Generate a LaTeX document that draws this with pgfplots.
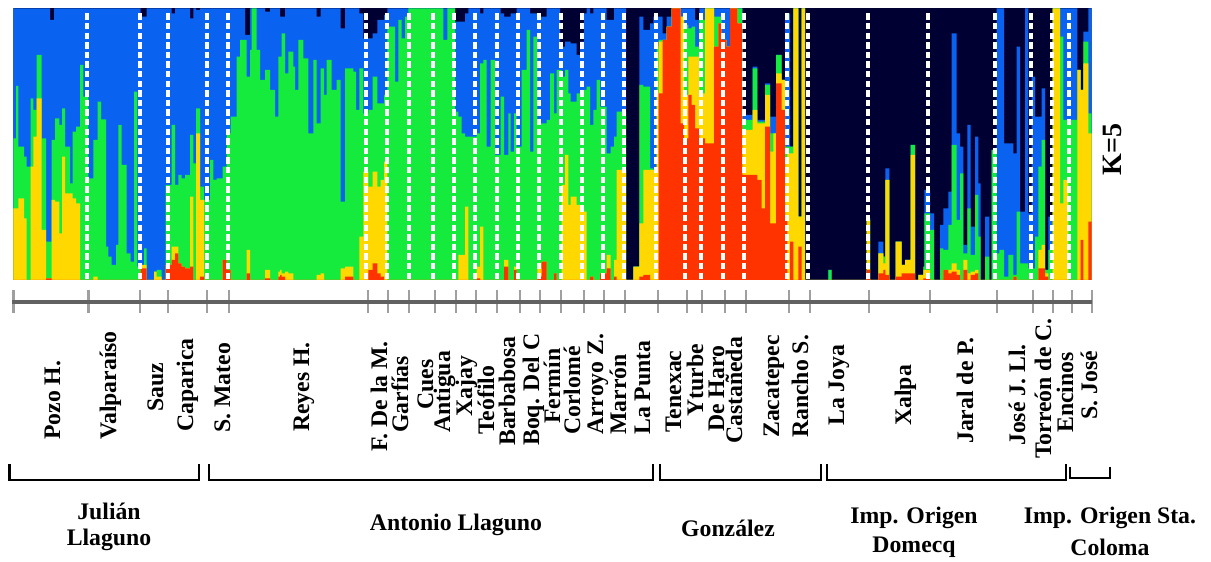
\documentclass[border=0pt]{standalone}
\usepackage{pgfplots}
\usepackage{pgfplotstable}
\usepackage{fontspec}
\setmainfont{Liberation Serif}
\pgfplotsset{compat=1.18}
\definecolor{cR}{HTML}{FF3300}
\definecolor{cY}{HTML}{FFD800}
\definecolor{cG}{HTML}{14EB3C}
\definecolor{cB}{HTML}{0A62F0}
\definecolor{cK}{HTML}{000033}
\pgfplotstableread{
X R Y G B
40 0 215 425 815
48 0 215 582 815
55 0 245 400 815
72 0 185 370 815
80 0 0 340 815
92 0 340 545 815
100 0 430 510 815
110 0 545 675 815
125 0 150 425 815
138 5 5 115 815
150 5 5 115 780
155 0 240 420 780
162 0 240 420 815
165 0 235 485 815
178 0 140 465 815
186 0 370 515 815
195 0 260 400 815
210 0 260 290 815
218 0 245 445 815
228 0 230 460 815
240 0 0 645 815
250 0 0 550 815
265 0 0 305 815
280 0 10 420 815
293 0 0 535 815
303 0 0 482 815
318 0 0 100 815
325 0 0 70 815
335 0 0 45 815
348 0 0 105 815
355 0 0 465 815
365 0 0 345 815
380 0 0 80 815
392 0 0 55 815
402 0 0 565 815
412 0 0 40 815
422 35 45 45 790
432 35 45 95 790
440 0 0 0 815
462 0 25 25 815
470 0 10 30 815
485 0 0 0 815
497 45 45 285 815
515 60 100 465 800
525 80 100 285 815
535 50 50 315 815
545 40 40 305 815
555 35 35 315 815
570 40 250 435 785
580 0 0 350 815
588 0 440 515 810
600 10 240 280 815
612 0 0 240 815
630 0 0 360 815
640 0 0 300 815
650 0 0 305 815
668 60 60 340 815
680 30 30 440 815
692 0 0 490 815
710 0 0 670 815
720 0 0 720 815
735 0 0 720 735
740 20 90 610 735
750 0 0 690 815
755 0 0 815 815
770 0 0 690 815
780 0 0 600 815
795 5 30 630 805
810 0 0 570 815
825 0 0 490 815
835 10 25 670 815
840 15 30 670 790
845 10 20 740 790
855 0 25 620 815
865 0 20 685 815
880 0 0 640 815
885 0 0 570 815
895 0 0 720 815
910 0 0 665 815
925 0 0 440 815
940 0 0 660 815
950 0 15 470 790
962 0 20 635 815
972 0 0 555 815
980 0 0 660 815
995 0 0 570 815
1010 0 0 600 815
1022 0 35 235 755
1035 10 40 635 815
1060 0 0 625 815
1068 0 0 510 815
1078 0 130 635 800
1090 0 325 500 725
1105 30 280 510 725
1118 50 325 610 740
1132 20 280 530 780
1142 10 300 530 780
1152 0 355 555 795
1162 0 0 760 815
1185 0 0 595 815
1195 0 0 780 815
1205 0 0 725 815
1215 0 0 790 815
1225 0 0 815 815
1330 0 0 720 815
1342 0 0 815 815
1365 0 0 505 775
1375 0 75 490 775
1385 0 75 440 775
1395 0 220 430 800
1405 0 0 430 815
1430 5 40 440 815
1440 0 160 650 800
1450 0 0 660 815
1460 0 0 400 815
1472 0 0 660 815
1485 0 0 375 815
1502 0 0 550 800
1512 40 60 375 790
1525 0 0 500 790
1532 0 0 385 800
1542 30 40 500 800
1550 0 0 400 815
1565 0 0 630 815
1580 0 0 750 815
1590 0 0 385 800
1600 0 0 730 800
1612 10 35 470 790
1625 55 55 470 790
1640 0 0 480 815
1650 0 0 620 815
1662 20 20 500 815
1670 0 0 630 815
1680 0 0 630 700
1685 0 285 610 700
1695 0 375 630 715
1705 0 225 560 715
1712 0 250 535 710
1730 0 225 560 675
1740 0 215 560 715
1752 0 205 570 800
1760 0 0 580 815
1770 10 10 465 800
1780 0 0 510 815
1790 0 0 600 815
1800 20 20 520 815
1820 35 75 380 780
1832 0 0 400 780
1842 10 60 430 815
1850 0 330 505 815
1878 0 0 0 0
1900 0 40 40 40
1918 10 170 585 790
1930 15 330 580 750
1950 0 330 335 770
1960 0 330 330 790
1970 0 560 700 790
1976 560 715 720 790
1988 720 720 720 740
2000 760 760 760 790
2015 815 815 815 815
2042 470 790 790 815
2052 425 555 765 815
2065 555 670 755 815
2075 525 670 760 815
2085 455 670 700 780
2098 425 560 780 815
2115 410 815 815 815
2142 700 700 790 815
2155 770 770 790 815
2165 720 720 720 815
2180 700 700 700 815
2190 815 815 815 815
2212 770 770 815 815
2227 315 450 480 495
2258 315 510 635 640
2272 300 470 475 480
2285 215 470 475 480
2295 460 555 585 590
2310 170 385 440 490
2320 170 440 440 490
2328 590 620 675 675
2345 510 600 600 600
2355 180 350 400 790
2362 0 380 400 800
2370 115 380 400 400
2380 0 815 815 815
2395 100 190 190 190
2405 0 815 815 815
2415 0 0 0 0
2485 0 0 30 30
2495 0 0 0 0
2600 30 180 185 185
2610 0 0 0 0
2635 20 80 80 115
2650 30 50 70 70
2656 15 300 300 335
2668 0 0 0 0
2687 10 115 115 115
2705 20 45 45 45
2715 20 60 60 60
2732 20 375 405 405
2745 0 0 0 0
2755 0 15 15 15
2770 5 30 40 40
2773 5 30 200 270
2790 0 0 150 200
2802 0 0 0 0
2820 0 0 95 165
2830 30 30 90 215
2845 20 30 165 265
2855 25 50 405 740
2870 15 30 180 440
2880 0 0 320 400
2890 30 60 80 105
2902 0 20 215 465
2912 15 25 75 160
2925 20 30 255 430
2935 0 0 130 290
2942 0 0 0 0
2955 0 0 70 190
2968 0 0 0 0
2975 0 0 390 390
2990 0 0 80 815
2998 0 0 90 815
3012 0 0 10 410
3025 0 0 75 410
3040 10 10 15 380
3050 0 0 205 700
3060 0 0 50 205
3075 0 0 50 815
3085 0 0 35 200
3095 0 0 35 610
3105 0 0 130 490
3115 35 90 340 490
3125 35 105 420 575
3135 10 20 30 30
3145 0 0 90 190
3158 0 815 815 815
3180 0 230 730 815
3190 0 300 480 815
3205 0 0 480 815
3232 0 630 630 630
3242 120 570 570 570
3250 0 650 715 745
3265 175 440 500 815
3275 175 440 500 815
}\structdata
\newcommand{\lab}[3]{\node[rotate=90,anchor=base west,inner sep=0pt] at (axis cs:#1,#2) {\fontsize{17.8}{20}\selectfont\bfseries #3};}
\newcommand{\hlab}[3]{\node[anchor=center,inner sep=0pt] at (axis cs:#1,#2) {\fontsize{17.8}{20}\selectfont\bfseries #3};}
\begin{document}
\begin{tikzpicture}
\path[use as bounding box] (0,0) rectangle (908.25pt,420.75pt);
\begin{axis}[at={(10pt,210.75pt)},anchor=south west,scale only axis,width=808.75pt,height=203.75pt,
  xmin=40,xmax=3275,ymin=0,ymax=815,axis lines=none]
\addplot[fill=cK,draw=none] coordinates {(40,815)(3275,815)} \closedcycle;
\addplot[fill=cB,draw=none,const plot mark left] table[x=X,y=B]{\structdata} \closedcycle;
\addplot[fill=cG,draw=none,const plot mark left] table[x=X,y=G]{\structdata} \closedcycle;
\addplot[fill=cY,draw=none,const plot mark left] table[x=X,y=Y]{\structdata} \closedcycle;
\addplot[fill=cR,draw=none,const plot mark left] table[x=X,y=R]{\structdata} \closedcycle;
\pgfplotsinvokeforeach{260,420,503,621,685,1098,1162,1226,1300,1363,1426,1490,1554,1618,1682,1745,1810,1873,1968,2054,2104,2170,2232,2362,2425,2605,2785,2985,3093,3155,3208}{
  \addplot[white,line width=2.9pt,dash pattern=on 4.9pt off 2.3pt] coordinates {(#1,800)(#1,0)};
}
\end{axis}
\begin{axis}[at={(0,0)},anchor=south west,scale only axis,width=908.25pt,height=420.75pt,
  xmin=0,xmax=1211,ymin=0,ymax=561,y dir=reverse,axis lines=none,clip=false]
\pgfplotsinvokeforeach{13.5,88.5,140,168,207,229,368,388,409,435,456,476,497,520,540,561,584,604,625,658,687,702,725,746,789,810,869,930,997,1033,1053,1072,1092}{
  \addplot[color=gray!75,line width=1.6pt] coordinates {(#1,290)(#1,313)};
}
\addplot[color=black!62,line width=3.4pt] coordinates {(12,302)(1092,302)};
\addplot[black,line width=2.2pt] coordinates {(9.5,464)(9.5,480)(199,480)(199,464)};
\addplot[black,line width=2.2pt] coordinates {(209,464)(209,480)(653,480)(653,464)};
\addplot[black,line width=2.2pt] coordinates {(660,464)(660,480)(821,480)(821,464)};
\addplot[black,line width=2.2pt] coordinates {(827,464)(827,480)(1066,480)(1066,464)};
\addplot[black,line width=2.2pt] coordinates {(1070,467)(1070,478)(1110,478)(1110,467)};
\lab{60}{440}{Pozo H.}
\lab{116}{440}{Valparaíso}
\lab{163}{412}{Sauz}
\lab{193}{432}{Caparica}
\lab{230}{433}{S. Mateo}
\lab{309}{432}{Reyes H.}
\lab{387}{452}{F. De la M.}
\lab{408}{433}{Garfías}
\lab{433}{410}{Cues}
\lab{450}{433}{Antigua}
\lab{472}{417}{Xajay}
\lab{494}{435}{Teófilo}
\lab{515}{446}{Barbabosa}
\lab{539}{446}{Boq. Del C}
\lab{560}{424}{Fermín}
\lab{580}{435}{Corlomé}
\lab{603}{435}{Arroyo Z.}
\lab{626}{435}{Marrón}
\lab{650}{435}{La Punta}
\lab{681}{433}{Tenexac}
\lab{703}{417}{Yturbe}
\lab{724}{432}{De Haro}
\lab{742}{444}{Castañeda}
\lab{779}{438}{Zacatepec}
\lab{808}{438}{Rancho S.}
\lab{844}{426}{La Joya}
\lab{911}{426}{Xalpa}
\lab{973}{444}{Jaral de P.}
\lab{1025}{446}{José J. Ll.}
\lab{1051}{459}{Torreón de C.}
\lab{1073}{433}{Encinos}
\lab{1097}{420}{S. José}
\hlab{109}{511}{Julián}
\hlab{109}{540}{Llaguno}
\hlab{456}{525}{Antonio Llaguno}
\hlab{728}{528}{González}
\hlab{914}{518}{Imp. Origen}
\hlab{914}{547}{Domecq}
\hlab{1110}{518}{Imp. Origen Sta.}
\hlab{1110}{547}{Coloma}
\node[rotate=90,anchor=base west,inner sep=0pt] at (axis cs:1121,176) {\fontsize{21}{24}\selectfont\bfseries K=5};
\end{axis}
\end{tikzpicture}
\end{document}
